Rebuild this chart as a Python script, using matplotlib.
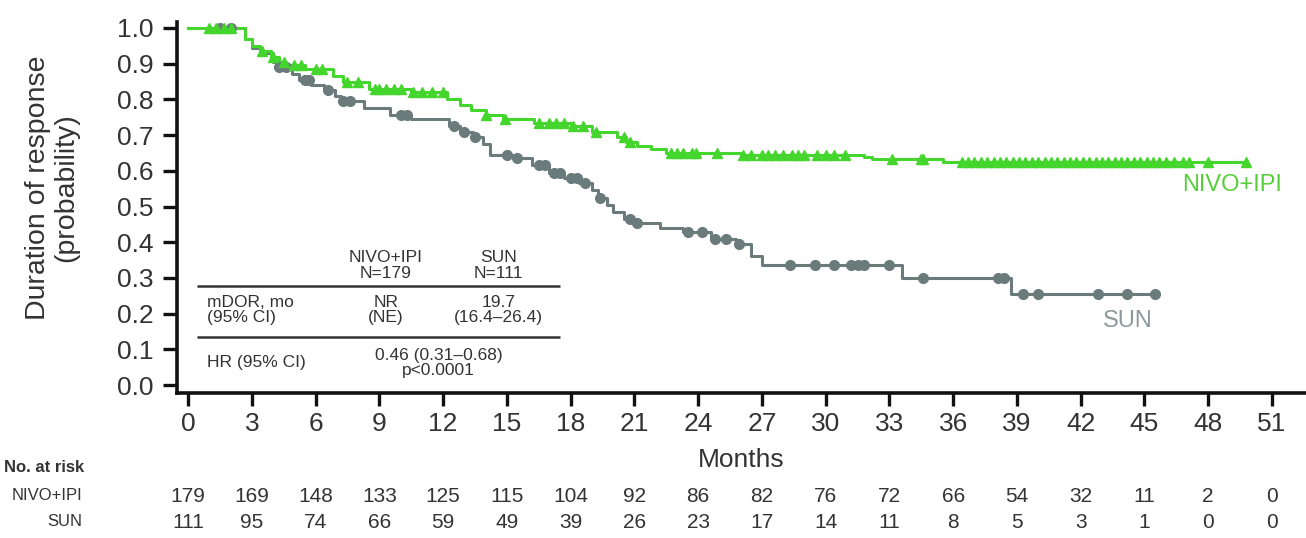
import numpy as np
import matplotlib
matplotlib.use("Agg")
import matplotlib.pyplot as plt

plt.rcParams["font.family"] = ["Liberation Sans", "DejaVu Sans"]

GREEN = "#44d62c"
GRAY = "#6b7b7c"
TEXT = "#333333"

# NIVO+IPI: step times (months) and survival after each step
nivo_t = [0, 2.7, 3.0, 3.4, 3.9, 4.3, 4.6, 5.5, 6.8, 7.3, 8.5, 10.5, 12.2, 12.8,
          13.3, 14.0, 14.8, 16.3, 18.0, 19.0, 20.2, 20.6, 21.1, 21.8, 22.5,
          26.0, 31.8, 32.2, 35.5]
nivo_s = [1.0, 0.97, 0.95, 0.935, 0.92, 0.905, 0.895, 0.885, 0.865, 0.85, 0.83,
          0.82, 0.80, 0.785, 0.77, 0.755, 0.745, 0.735, 0.725, 0.71, 0.695,
          0.68, 0.67, 0.66, 0.65, 0.645, 0.64, 0.632, 0.625]
nivo_end = 49.8
nivo_cens = [1.0, 1.3, 1.7, 2.0, 3.5, 4.0, 4.5, 5.0, 5.3, 6.0, 6.3, 7.5, 8.0,
             8.8, 9.0, 9.3, 9.7, 10.0, 10.6, 11.0, 11.5, 12.0, 14.0, 14.9,
             16.5, 17.0, 17.3, 17.7, 18.1, 18.6, 19.2, 20.5, 20.8, 22.7, 23.0,
             23.3, 23.7, 23.9, 24.9, 26.1, 26.5, 27.0, 27.3, 27.6, 28.0, 28.4,
             28.7, 29.0, 29.6, 30.0, 30.4, 30.9, 33.1, 34.5, 34.6, 36.4, 36.7,
             37.0, 37.3, 37.6, 37.9, 38.2, 38.5, 38.8, 39.1, 39.4, 39.7, 40.0,
             40.3, 40.6, 40.9, 41.2, 41.5, 41.8, 42.1, 42.4, 42.7, 43.0, 43.3,
             43.6, 43.9, 44.2, 44.5, 44.8, 45.1, 45.4, 45.7, 46.0, 46.4, 46.8,
             47.1, 48.0, 49.8]

# SUN
sun_t = [0, 2.7, 3.0, 3.5, 4.0, 4.3, 4.9, 5.2, 5.8, 6.4, 6.9, 7.2, 8.3, 9.5,
         10.5, 12.3, 12.8, 13.4, 13.9, 14.2, 15.5, 16.2, 17.0, 17.7, 18.4,
         19.0, 19.3, 19.7, 20.0, 20.5, 21.0, 22.2, 23.3, 24.6, 25.8, 26.5,
         27.0, 33.6, 38.7]
sun_s = [1.0, 0.97, 0.945, 0.93, 0.905, 0.89, 0.87, 0.855, 0.84, 0.825, 0.81,
         0.795, 0.775, 0.757, 0.745, 0.725, 0.71, 0.695, 0.675, 0.645, 0.635,
         0.615, 0.595, 0.58, 0.565, 0.545, 0.525, 0.505, 0.485, 0.465, 0.455,
         0.44, 0.428, 0.41, 0.395, 0.36, 0.335, 0.30, 0.255]
sun_end = 45.5
sun_cens = [1.5, 2.0, 4.3, 4.6, 5.5, 5.7, 6.6, 7.3, 7.6, 10.0, 10.3, 12.5, 13.0,
            13.5, 15.0, 15.5, 16.5, 16.8, 17.2, 17.5, 18.0, 18.3, 18.7, 19.4,
            20.8, 21.1, 23.5, 24.2, 24.8, 25.3, 25.9, 28.3, 29.5, 30.4, 31.2,
            31.5, 31.8, 33.0, 34.6, 38.1, 38.4, 39.3, 40.0, 42.8, 44.2, 45.5]

ticks = list(range(0, 52, 3))
risk_nivo = [179, 169, 148, 133, 125, 115, 104, 92, 86, 82, 76, 72, 66, 54, 32, 11, 2, 0]
risk_sun = [111, 95, 74, 66, 59, 49, 39, 26, 23, 17, 14, 11, 8, 5, 3, 1, 0, 0]


def surv_at(t, times, surv):
    idx = np.searchsorted(times, t, side="right") - 1
    return np.asarray(surv)[idx]


def draw_arm(ax, times, surv, end, cens, color, marker, ms):
    x = list(times) + [end]
    y = list(surv) + [surv[-1]]
    ax.step(x, y, where="post", color=color, lw=2.2, zorder=3)
    ax.plot(cens, surv_at(cens, times, surv), ls="none", marker=marker,
            ms=ms, color=color, mec=color, zorder=4)


fig = plt.figure(figsize=(13.06, 5.38), dpi=100)
ax = fig.add_axes([177 / 1306, 1 - 393 / 538, 1 - 177 / 1306, (393 - 22) / 538])

draw_arm(ax, sun_t, sun_s, sun_end, sun_cens, GRAY, "o", 7)
draw_arm(ax, nivo_t, nivo_s, nivo_end, nivo_cens, GREEN, "^", 7.5)

ax.set_xlim(-0.52, 52.6)
ax.set_ylim(-0.0224, 1.0168)
ax.set_xticks(ticks)
ax.set_yticks(np.arange(0, 1.01, 0.1))
ax.set_yticklabels([f"{v:.1f}" for v in np.arange(0, 1.01, 0.1)])
for s in ["top", "right"]:
    ax.spines[s].set_visible(False)
for s in ["left", "bottom"]:
    ax.spines[s].set_linewidth(2.6)
    ax.spines[s].set_color("#111111")
ax.tick_params(axis="both", direction="out", width=2.4, color="#111111",
               labelsize=19, labelcolor=TEXT)
ax.tick_params(axis="x", length=9, pad=5)
ax.tick_params(axis="y", length=10, pad=7)

fig.text(52 / 1306, 1 - 188 / 538, "Duration of response\n(probability)",
         rotation=90, ha="center", va="center", fontsize=20.5, color=TEXT,
         linespacing=1.1)

ax.text(0.5, (393 - 460) / 371, "Months", transform=ax.transAxes,
        ha="center", va="center", fontsize=19, color=TEXT)

# number at risk
xt = ax.get_xaxis_transform()
fig.text(0.003, 1 - 467 / 538, "No. at risk", ha="left", va="center",
         fontsize=12, fontweight="bold", color=TEXT)
fig.text(82 / 1306, 1 - 496 / 538, "NIVO+IPI", ha="right", va="center",
         fontsize=12, color=TEXT)
fig.text(82 / 1306, 1 - 521 / 538, "SUN", ha="right", va="center",
         fontsize=12, color=TEXT)
for t, a, b in zip(ticks, risk_nivo, risk_sun):
    ax.text(t, (393 - 497) / 371, str(a), transform=xt, ha="center",
            va="center", fontsize=15, color=TEXT)
    ax.text(t, (393 - 522) / 371, str(b), transform=xt, ha="center",
            va="center", fontsize=15, color=TEXT)

# curve labels
ax.text(49.1, 0.56, "NIVO+IPI", ha="center", va="center", fontsize=17,
        color="#55d03a")
ax.text(44.2, 0.18, "SUN", ha="center", va="center", fontsize=17,
        color="#8a9999")

# inset summary table
fs = 12.5
c1, c2 = 9.3, 14.6
ax.hlines([0.277, 0.134], 0.4, 17.5, color="#333333", lw=1.8)
ax.text(c1, 0.335, "NIVO+IPI\nN=179", ha="center", va="center", fontsize=fs,
        color=TEXT, linespacing=1.05)
ax.text(c2, 0.335, "SUN\nN=111", ha="center", va="center", fontsize=fs,
        color=TEXT, linespacing=1.05)
ax.text(0.9, 0.21, "mDOR, mo\n(95% CI)", ha="left", va="center", fontsize=fs,
        color=TEXT, linespacing=1.05)
ax.text(c1, 0.21, "NR\n(NE)", ha="center", va="center", fontsize=fs,
        color=TEXT, linespacing=1.05)
ax.text(c2, 0.21, "19.7\n(16.4\u201326.4)", ha="center", va="center",
        fontsize=fs, color=TEXT, linespacing=1.05)
ax.text(0.9, 0.064, "HR (95% CI)", ha="left", va="center", fontsize=fs,
        color=TEXT)
ax.text(11.8, 0.062, "0.46 (0.31\u20130.68)\np<0.0001", ha="center",
        va="center", fontsize=fs, color=TEXT, linespacing=1.05)

fig.savefig("out.png", dpi=100)
